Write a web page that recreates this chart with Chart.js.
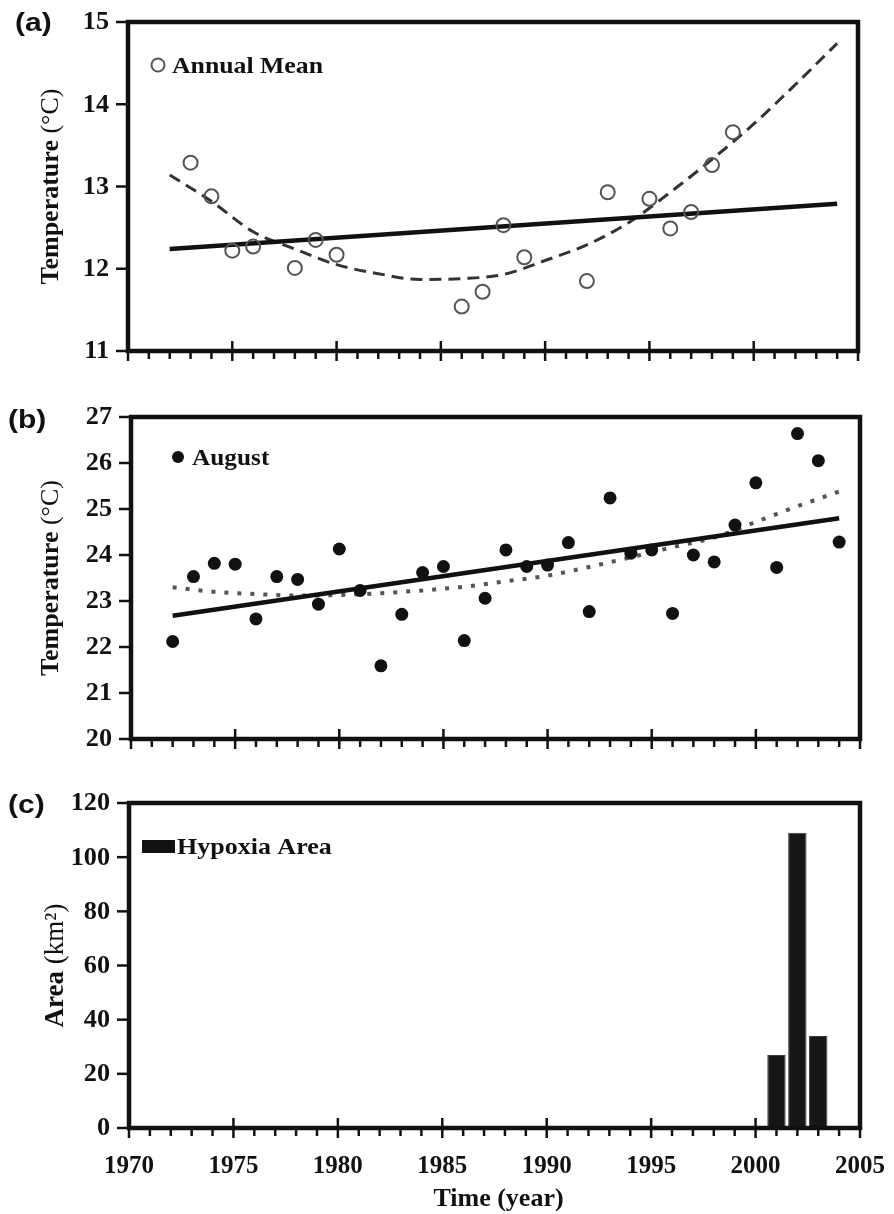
<!DOCTYPE html>
<html>
<head>
<meta charset="utf-8">
<script src="https://cdn.jsdelivr.net/npm/chart.js@4.4.1/dist/chart.umd.min.js"></script>
<style>
	body { margin: 0; background: #fff; }
	#wrap { position: relative; width: 894px; height: 1214px; }
	#wrap canvas { position: absolute; left: 0; }
</style>
</head>
<body>
<div id="wrap">
	<canvas id="chartA" width="894" height="380" style="top:0px"></canvas>
	<canvas id="chartB" width="894" height="390" style="top:380px"></canvas>
	<canvas id="chartC" width="894" height="444" style="top:770px"></canvas>
</div>

<script>
	// ---- data ----
	// (a) annual mean water temperature
	const annualYears = [1973, 1974, 1975, 1976, 1978, 1979, 1980, 1986, 1987, 1988, 1989, 1992, 1993, 1995, 1996, 1997, 1998, 1999];
	const annualTemp  = [13.29, 12.88, 12.22, 12.27, 12.01, 12.35, 12.17, 11.54, 11.72, 12.53, 12.14, 11.85, 12.93, 12.85, 12.49, 12.69, 13.26, 13.66];

	// fitted trend lines, read at the same years
	const linYears = [1972, 2004];
	const annualLin = [12.24, 12.79];
	const fitYears = [1972, 1974, 1976, 1978, 1980, 1982, 1984, 1986, 1988, 1990, 1992, 1994, 1996, 1998, 2000, 2002, 2004];
	const annualFit = [13.14, 12.82, 12.45, 12.24, 12.05, 11.94, 11.87, 11.88, 11.93, 12.10, 12.29, 12.56, 12.93, 13.33, 13.76, 14.24, 14.74];

	// (b) August temperature
	const augYears = [1972, 1973, 1974, 1975, 1976, 1977, 1978, 1979, 1980, 1981, 1982, 1983, 1984, 1985, 1986, 1987,
		1988, 1989, 1990, 1991, 1992, 1993, 1994, 1995, 1996, 1997, 1998, 1999, 2000, 2001, 2002, 2003, 2004];
	const augTemp = [22.12, 23.53, 23.82, 23.80, 22.61, 23.53, 23.47, 22.93, 24.13, 23.23, 21.59, 22.71, 23.62, 23.75, 22.14, 23.06,
		24.11, 23.75, 23.78, 24.27, 22.77, 25.24, 24.04, 24.11, 22.73, 24.00, 23.85, 24.65, 25.57, 23.73, 26.64, 26.05, 24.28];
	const augLin = [22.68, 24.80];
	const augFit = [23.30, 23.20, 23.15, 23.12, 23.13, 23.17, 23.23, 23.31, 23.43, 23.55, 23.74, 23.95, 24.17, 24.38, 24.72, 25.06, 25.38];

	// (c) hypoxia area, km2
	const hypoxiaYears = [2001, 2002, 2003];
	const hypoxiaArea = [27, 109, 34];

	// axis ticks
	const yearTicks = [1970, 1975, 1980, 1985, 1990, 1995, 2000, 2005];
	const tempTicksA = [11, 12, 13, 14, 15];
	const tempTicksB = [20, 21, 22, 23, 24, 25, 26, 27];
	const areaTicks = [0, 20, 40, 60, 80, 100, 120];

	// ---- drawing helpers ----
	const INK = '#111';
	const TICK_FONT = 'bold 25px "Liberation Serif"';

	function pts(xs, ys) {
		return xs.map((x, i) => ({ x: x, y: ys[i] }));
	}

	function seg(ctx, x1, y1, x2, y2) {
		ctx.beginPath();
		ctx.moveTo(x1, y1);
		ctx.lineTo(x2, y2);
		ctx.stroke();
	}

	// text with a horizontal stretch, the print uses wide glyphs
	function text(ctx, s, x, y, font, align, sx) {
		ctx.save();
		ctx.font = font;
		ctx.textAlign = align;
		ctx.textBaseline = 'middle';
		ctx.translate(x, y);
		ctx.scale(sx || 1, 1);
		ctx.fillText(s, 0, 0);
		ctx.restore();
	}

	// rotated axis title, bold name + regular unit
	function titleV(ctx, parts, x, y) {
		ctx.save();
		ctx.translate(x, y);
		ctx.rotate(-Math.PI / 2);
		ctx.textBaseline = 'middle';
		ctx.textAlign = 'left';
		var w = 0;
		parts.forEach(p => { ctx.font = p[1]; w += ctx.measureText(p[0]).width; });
		var cx = -w / 2;
		parts.forEach(p => {
			ctx.font = p[1];
			ctx.fillText(p[0], cx, 0);
			cx += ctx.measureText(p[0]).width;
		});
		ctx.restore();
	}

	// frame, tick marks, labels and legend for one panel
	const framePlugin = {
		id: 'frame',
		afterDraw(chart, args, o) {
			var ctx = chart.ctx;
			var a = chart.chartArea;
			var xs = chart.scales.x, ys = chart.scales.y;
			ctx.save();
			ctx.strokeStyle = INK;
			ctx.fillStyle = INK;

			ctx.lineWidth = 2.5;
			o.yTicks.forEach(v => {
				var y = ys.getPixelForValue(v);
				seg(ctx, a.left - 12, y, a.left, y);
				text(ctx, String(v), a.left - 19, y + 1, TICK_FONT, 'right', 1.05);
			});

			// one tick per year, the five-year ones cross the axis
			var first = yearTicks[0], last = yearTicks[yearTicks.length - 1];
			for (var yr = first; yr <= last; yr++) {
				var x = xs.getPixelForValue(yr);
				var major = yearTicks.includes(yr);
				seg(ctx, x, major ? a.bottom - 10 : a.bottom, x, a.bottom + (major ? 10 : 8));
			}
			if (o.yearLabels) {
				yearTicks.forEach(yr => {
					text(ctx, String(yr), xs.getPixelForValue(yr), a.bottom + 39, TICK_FONT, 'center', 1.0);
				});
				text(ctx, 'Time (year)', (a.left + a.right) / 2 + 4, a.bottom + 71, 'bold 26px "Liberation Serif"', 'center', 1.0);
			}

			ctx.lineWidth = 4.5;
			ctx.strokeRect(a.left, a.top, a.right - a.left, a.bottom - a.top);

			titleV(ctx, o.yTitle, o.titleX, (a.top + a.bottom) / 2);
			text(ctx, o.panel, o.panelX, o.panelY, 'bold 25px "Liberation Sans"', 'left', 1.2);

			var lg = o.legend;
			if (lg.kind === 'open') {
				ctx.strokeStyle = '#555';
				ctx.lineWidth = 2;
				ctx.beginPath();
				ctx.arc(lg.x, lg.y, 6.5, 0, Math.PI * 2);
				ctx.stroke();
			} else if (lg.kind === 'dot') {
				ctx.beginPath();
				ctx.arc(lg.x, lg.y, 6, 0, Math.PI * 2);
				ctx.fill();
			} else {
				ctx.fillRect(lg.x - 16, lg.y - 6, 33, 13);
			}
			text(ctx, lg.text, lg.tx, lg.y + 2, 'bold 23px "Liberation Serif"', 'left', lg.sx);
			ctx.restore();
		}
	};

	function axes(yMin, yMax) {
		return {
			x: { type: 'linear', min: 1970, max: 2005, display: false, offset: false },
			y: { type: 'linear', min: yMin, max: yMax, display: false }
		};
	}

	const common = {
		responsive: false,
		animation: false,
		devicePixelRatio: 1,
		events: []
	};

	// (a)
	new Chart(document.getElementById('chartA'), {
		type: 'line',
		data: {
			datasets: [
				{
					data: pts(annualYears, annualTemp),
					showLine: false,
					pointStyle: 'circle',
					pointRadius: 7,
					pointBorderWidth: 2,
					pointBorderColor: '#555',
					pointBackgroundColor: 'rgba(0,0,0,0)'
				},
				{
					data: pts(linYears, annualLin),
					borderColor: INK,
					borderWidth: 4.5,
					pointRadius: 0
				},
				{
					data: pts(fitYears, annualFit),
					borderColor: '#333',
					borderWidth: 3,
					borderDash: [12, 7],
					cubicInterpolationMode: 'monotone',
					pointRadius: 0
				}
			]
		},
		options: Object.assign({}, common, {
			layout: { padding: { left: 128, top: 22, right: 36, bottom: 29 } },
			scales: axes(11, 15),
			plugins: {
				legend: { display: false },
				tooltip: { enabled: false },
				frame: {
					yTicks: tempTicksA,
					yTitle: [['Temperature', 'bold 26px "Liberation Serif"'], [' (°C)', '26px "Liberation Serif"']],
					titleX: 51,
					panel: '(a)', panelX: 15, panelY: 24,
					legend: { kind: 'open', x: 158, y: 65, text: 'Annual Mean', tx: 172, sx: 1.12 }
				}
			}
		}),
		plugins: [framePlugin]
	});

	// (b)
	new Chart(document.getElementById('chartB'), {
		type: 'line',
		data: {
			datasets: [
				{
					data: pts(augYears, augTemp),
					showLine: false,
					pointStyle: 'circle',
					pointRadius: 6.5,
					pointBorderWidth: 0,
					pointBackgroundColor: INK
				},
				{
					data: pts(linYears, augLin),
					borderColor: INK,
					borderWidth: 4.5,
					pointRadius: 0
				},
				{
					data: pts(fitYears, augFit),
					borderColor: '#555',
					borderWidth: 4,
					borderDash: [4, 9],
					cubicInterpolationMode: 'monotone',
					pointRadius: 0
				}
			]
		},
		options: Object.assign({}, common, {
			layout: { padding: { left: 131, top: 37, right: 34, bottom: 31 } },
			scales: axes(20, 27),
			plugins: {
				legend: { display: false },
				tooltip: { enabled: false },
				frame: {
					yTicks: tempTicksB,
					yTitle: [['Temperature', 'bold 26px "Liberation Serif"'], [' (°C)', '26px "Liberation Serif"']],
					titleX: 51,
					panel: '(b)', panelX: 8, panelY: 41,
					legend: { kind: 'dot', x: 178, y: 77, text: 'August', tx: 192, sx: 1.1 }
				}
			}
		}),
		plugins: [framePlugin]
	});

	// (c)
	new Chart(document.getElementById('chartC'), {
		type: 'bar',
		data: {
			datasets: [
				{
					data: pts(hypoxiaYears, hypoxiaArea),
					backgroundColor: '#161616',
					borderColor: '#3a3a3a',
					borderWidth: 1,
					barPercentage: 0.88,
					categoryPercentage: 1.0
				}
			]
		},
		options: Object.assign({}, common, {
			layout: { padding: { left: 129, top: 33, right: 34, bottom: 86 } },
			scales: axes(0, 120),
			plugins: {
				legend: { display: false },
				tooltip: { enabled: false },
				frame: {
					yTicks: areaTicks,
					yearLabels: true,
					yTitle: [['Area', 'bold 27px "Liberation Serif"'], [' (km²)', '27px "Liberation Serif"']],
					titleX: 56,
					panel: '(c)', panelX: 8, panelY: 36,
					legend: { kind: 'box', x: 158, y: 76, text: 'Hypoxia Area', tx: 177, sx: 1.13 }
				}
			}
		}),
		plugins: [framePlugin]
	});
</script>
</body>
</html>
